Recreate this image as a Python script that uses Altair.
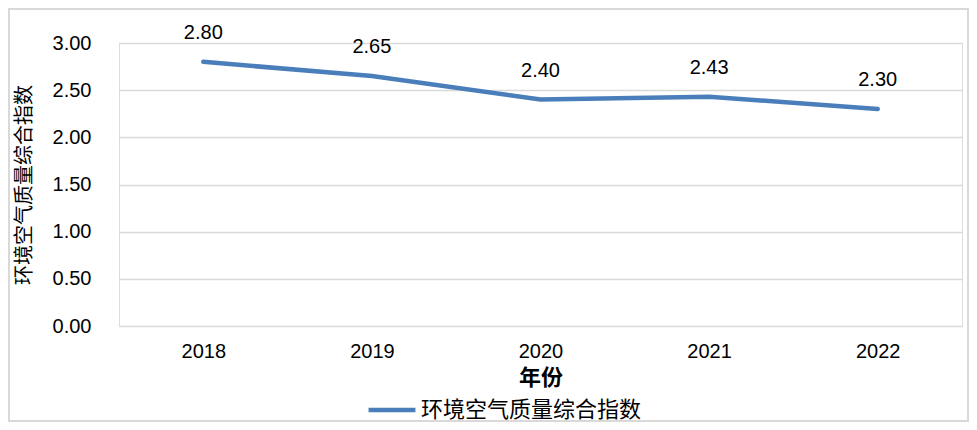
import altair as alt
import pandas as pd

years = ["2018", "2019", "2020", "2021", "2022"]
values = [2.80, 2.65, 2.40, 2.43, 2.30]
series = "环境空气质量综合指数"

df = pd.DataFrame({"年份": years, "指数": values, "系列": [series] * len(years)})

FONT = "Liberation Sans, Noto Sans CJK SC, sans-serif"
W, H = 843, 283

base = alt.Chart(df).encode(
    x=alt.X("年份:N", sort=years,
            scale=alt.Scale(paddingInner=0, paddingOuter=0.5),
            axis=alt.Axis(title="年份", labelAngle=0, labelFontSize=20, labelFont=FONT,
                          labelColor="#000", labelPadding=15, titleFontSize=22,
                          titleFont=FONT, titleFontWeight="bold", titleColor="#000",
                          titlePadding=6, domain=True, domainColor="#d9d9d9",
                          ticks=False, grid=False))
)

line = base.mark_line(strokeWidth=4.5, strokeCap="round").encode(
    y=alt.Y("指数:Q", scale=alt.Scale(domain=[0, 3]),
            axis=alt.Axis(title=series, values=[0, 0.5, 1, 1.5, 2, 2.5, 3], format=".2f",
                          labelFontSize=20, labelFont=FONT, labelColor="#000",
                          labelPadding=28, titleFontSize=20, titleFont=FONT,
                          titleColor="#000", titleFontWeight="normal", titlePadding=18,
                          domain=False, ticks=False, grid=True, gridColor="#d9d9d9",
                          gridWidth=1.3)),
    color=alt.Color("系列:N", scale=alt.Scale(range=["#4a7ebb"]),
                    legend=alt.Legend(title=None, orient="none", legendX=247, legendY=341,
                                      symbolType="stroke", symbolStrokeWidth=4.5,
                                      symbolSize=2200, labelFontSize=22, labelFont=FONT,
                                      labelColor="#000", labelOffset=3, labelLimit=400)),
)

labels = base.mark_text(dy=-29, fontSize=20, font=FONT, color="#000").encode(
    y=alt.Y("指数:Q"),
    text=alt.Text("指数:Q", format=".2f"),
)

border = alt.Chart(df).mark_rect(fill=None, stroke="#d9d9d9", strokeWidth=1.5).encode(
    x=alt.value(-110), x2=alt.value(W + 6), y=alt.value(-34), y2=alt.value(H + 95)
)

chart = alt.layer(line, labels, border).properties(
    width=W, height=H,
    autosize=alt.AutoSizeParams(type="none"),
    padding={"left": 111, "top": 35, "right": 7, "bottom": 96},
).configure_view(stroke=None).configure(background="white")

chart.save("out.html", embed_options={"renderer": "svg", "actions": False})
